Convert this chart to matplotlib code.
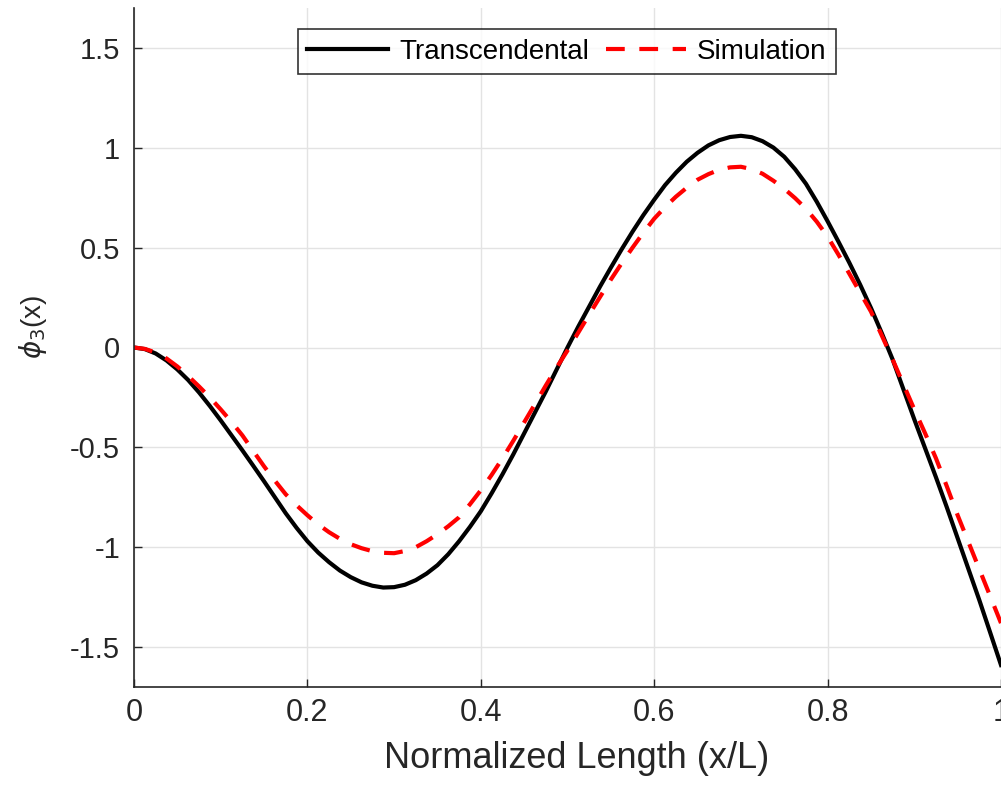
import matplotlib
matplotlib.use("Agg")
import matplotlib.pyplot as plt

# values
x_vals = [0.0, 0.0125, 0.025, 0.0375, 0.05, 0.0625, 0.075, 0.0875, 0.1, 0.1125,
          0.125, 0.1375, 0.15, 0.1625, 0.175, 0.1875, 0.2, 0.2125, 0.225, 0.2375,
          0.25, 0.2625, 0.275, 0.2875, 0.3, 0.3125, 0.325, 0.3375, 0.35, 0.3625,
          0.375, 0.3875, 0.4, 0.4125, 0.425, 0.4375, 0.45, 0.4625, 0.475, 0.4875,
          0.5, 0.5125, 0.525, 0.5375, 0.55, 0.5625, 0.575, 0.5875, 0.6, 0.6125,
          0.625, 0.6375, 0.65, 0.6625, 0.675, 0.6875, 0.7, 0.7125, 0.725, 0.7375,
          0.75, 0.7625, 0.775, 0.7875, 0.8, 0.8125, 0.825, 0.8375, 0.85, 0.8625,
          0.875, 0.8875, 0.9, 0.9125, 0.925, 0.9375, 0.95, 0.9625, 0.975, 0.9875,
          1.0]

transcendental = [0.0, -0.008, -0.03, -0.065, -0.11, -0.163, -0.225, -0.293, -0.365, -0.44,
                  -0.515, -0.592, -0.67, -0.75, -0.83, -0.903, -0.97, -1.027, -1.075, -1.117,
                  -1.15, -1.176, -1.193, -1.202, -1.20, -1.188, -1.165, -1.132, -1.09, -1.035,
                  -0.97, -0.898, -0.82, -0.73, -0.635, -0.535, -0.43, -0.325, -0.22, -0.11,
                  0.0, 0.105, 0.205, 0.305, 0.40, 0.492, 0.58, 0.663, 0.74, 0.813,
                  0.875, 0.93, 0.975, 1.012, 1.038, 1.054, 1.06, 1.053, 1.033, 1.001,
                  0.955, 0.893, 0.82, 0.73, 0.632, 0.53, 0.425, 0.315, 0.198, 0.072,
                  -0.06, -0.21, -0.36, -0.505, -0.65, -0.80, -0.955, -1.11, -1.265, -1.427,
                  -1.59]

simulation = [0.0, -0.007, -0.025, -0.055, -0.095, -0.143, -0.195, -0.25, -0.31, -0.373,
              -0.44, -0.518, -0.595, -0.667, -0.735, -0.79, -0.84, -0.886, -0.925, -0.958,
              -0.985, -1.005, -1.02, -1.028, -1.03, -1.019, -1.0, -0.97, -0.935, -0.895,
              -0.85, -0.785, -0.715, -0.638, -0.555, -0.467, -0.375, -0.283, -0.19, -0.10,
              -0.015, 0.075, 0.165, 0.253, 0.34, 0.422, 0.50, 0.575, 0.645, 0.703,
              0.755, 0.80, 0.84, 0.868, 0.89, 0.902, 0.905, 0.893, 0.87, 0.835,
              0.795, 0.748, 0.695, 0.63, 0.555, 0.465, 0.37, 0.275, 0.18, 0.06,
              -0.06, -0.185, -0.31, -0.43, -0.555, -0.695, -0.84, -0.975, -1.11, -1.245,
              -1.38]

x_ticks = [0, 0.2, 0.4, 0.6, 0.8, 1]
x_tick_labels = ['0', '0.2', '0.4', '0.6', '0.8', '1']
y_ticks = [-1.5, -1, -0.5, 0, 0.5, 1, 1.5]
y_tick_labels = ['-1.5', '-1', '-0.5', '0', '0.5', '1', '1.5']

plt.rcParams['font.family'] = ['Liberation Sans', 'DejaVu Sans']
txt = '#262626'

fig = plt.figure(figsize=(10.01, 7.87), dpi=100)
ax = fig.add_axes([134 / 1001, 100 / 787, 867 / 1001, 679 / 787])

ax.plot(x_vals, transcendental, color='black', linewidth=3, label='Transcendental')
ax.plot(x_vals, simulation, color='red', linewidth=3, linestyle=(0, (4.5, 3.5)),
        label='Simulation')

ax.set_xlim(0, 1)
ax.set_ylim(-1.7, 1.7)
ax.set_xticks(x_ticks)
ax.set_xticklabels(x_tick_labels, fontsize=22, color=txt)
ax.set_yticks(y_ticks)
ax.set_yticklabels(y_tick_labels, fontsize=21, color=txt)
ax.tick_params(direction='in', length=6, width=1, colors=txt, pad=10)
ax.tick_params(axis='x', pad=8)

ax.grid(True, color='#e3e3e3', linewidth=1)
ax.set_axisbelow(True)
for side in ['top', 'right']:
    ax.spines[side].set_visible(False)
for side in ['left', 'bottom']:
    ax.spines[side].set_color(txt)
    ax.spines[side].set_linewidth(1.2)

ax.set_xlabel('Normalized Length (x/L)', fontsize=26, color=txt)
ax.xaxis.set_label_coords(0.51, -0.08)
ax.set_ylabel(r'$\phi_3$(x)', fontsize=20, color=txt)
ax.yaxis.set_label_coords(-0.098, 0.53)

leg = ax.legend(loc='upper center', bbox_to_anchor=(0.4994, 0.969), ncol=2,
                fontsize=20, frameon=True, fancybox=False, edgecolor='black',
                handlelength=2.9, handletextpad=0.4, columnspacing=0.6,
                borderpad=0.35, borderaxespad=0)
leg.get_frame().set_linewidth(1.2)
for t in leg.get_texts():
    t.set_color('black')

fig.savefig('out.png', dpi=100)
